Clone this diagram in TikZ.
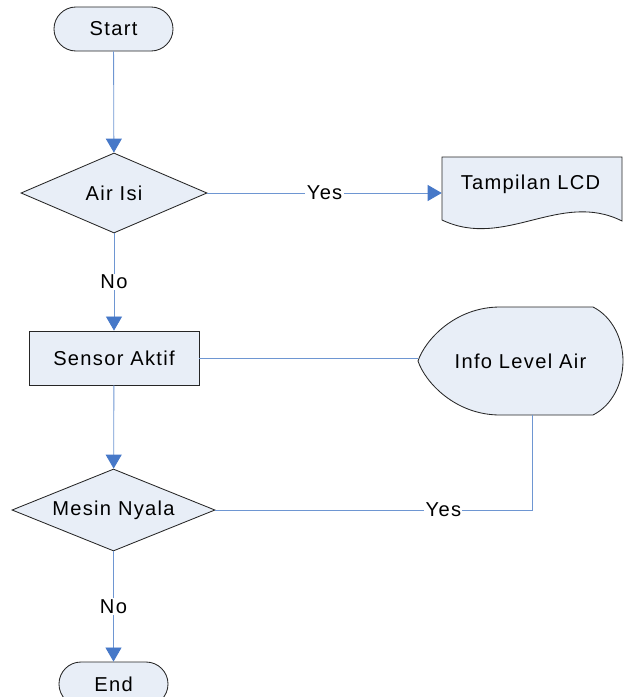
\documentclass[tikz,border=0pt]{standalone}
\usepackage{fontspec}
\setmainfont{Liberation Sans}[LetterSpace=6.5]
\usetikzlibrary{shapes.geometric, arrows.meta, calc}
\definecolor{isian}{RGB}{232,238,247}
\definecolor{garis}{RGB}{110,150,210}
\definecolor{panah}{RGB}{70,120,200}

\begin{document}
\begin{tikzpicture}[x=0.025cm, y=-0.025cm,
    >={Triangle[length=3.5mm, width=4mm, color=panah]},
    every node/.style={font=\fontsize{14.3}{17}\selectfont},
    bentuk/.style={draw=black!85, fill=isian, line width=0.6pt},
    terminal/.style={bentuk, rounded corners=0.55cm, minimum height=1.1cm, inner sep=0pt},
    keputusan/.style={bentuk, diamond, inner sep=0pt},
    proses/.style={bentuk, rectangle, minimum width=4.25cm, minimum height=1.35cm},
    kotak/.style={rectangle, inner sep=0pt},
    alur/.style={draw=garis, line width=0.6pt},
    teks/.style={fill=white, inner sep=1pt}]
    \useasboundingbox (0,0) rectangle (631,697);

    % Bentuk-bentuk utama
    \node[terminal, minimum width=2.975cm] (start) at (113.5,29) {Start};
    \node[keputusan, aspect=2.33, minimum width=4.65cm, minimum height=2cm] (airisi) at (114,193) {Air Isi};
    \node[proses] (sensor) at (114,358) {Sensor Aktif};
    \node[keputusan, aspect=2.48, minimum width=5.075cm, minimum height=2.05cm] (mesin) at (113.5,510) {Mesin Nyala};
    \node[terminal, minimum width=2.725cm] (end) at (113.5,684) {End};

    % Dokumen: Tampilan LCD
    \draw[bentuk] (442,157) -- (622,157) -- (622,221)
        .. controls (560,190) and (505,250) .. (442,220) -- cycle;
    \node[kotak, minimum width=4.5cm, minimum height=1.8cm] (lcd) at (532,193) {};
    \node (lcdteks) at (530.5,184) {Tampilan LCD};

    % Display: Info Level Air
    \draw[bentuk] (418,361) .. controls (425,340) and (455,307) .. (500,307)
        -- (593,307) .. controls (613,317) and (623,340) .. (623,361)
        .. controls (623,382) and (613,405) .. (593,415)
        -- (500,415) .. controls (455,415) and (425,382) .. (418,361) -- cycle;
    \node[kotak, minimum width=5.125cm, minimum height=2.7cm] (info) at (520.5,361) {Info Level Air};

    % Garis penghubung
    \draw[alur, ->] (start) -- (airisi);
    \draw[alur, ->] (airisi) -- node[teks] {Yes} (lcd);
    \draw[alur, ->] (airisi) -- node[teks] {No} (sensor);
    \draw[alur] (sensor.east) -- (sensor.east -| info.west);
    \draw[alur, ->] (sensor) -- (mesin);
    \coordinate (belok) at (532,510);
    \draw[alur] (info.south -| belok) -- (belok) -- node[teks, pos=0.28] {Yes} (mesin.east);
    \draw[alur, ->] (mesin) -- node[teks] {No} (end);
\end{tikzpicture}
\end{document}
